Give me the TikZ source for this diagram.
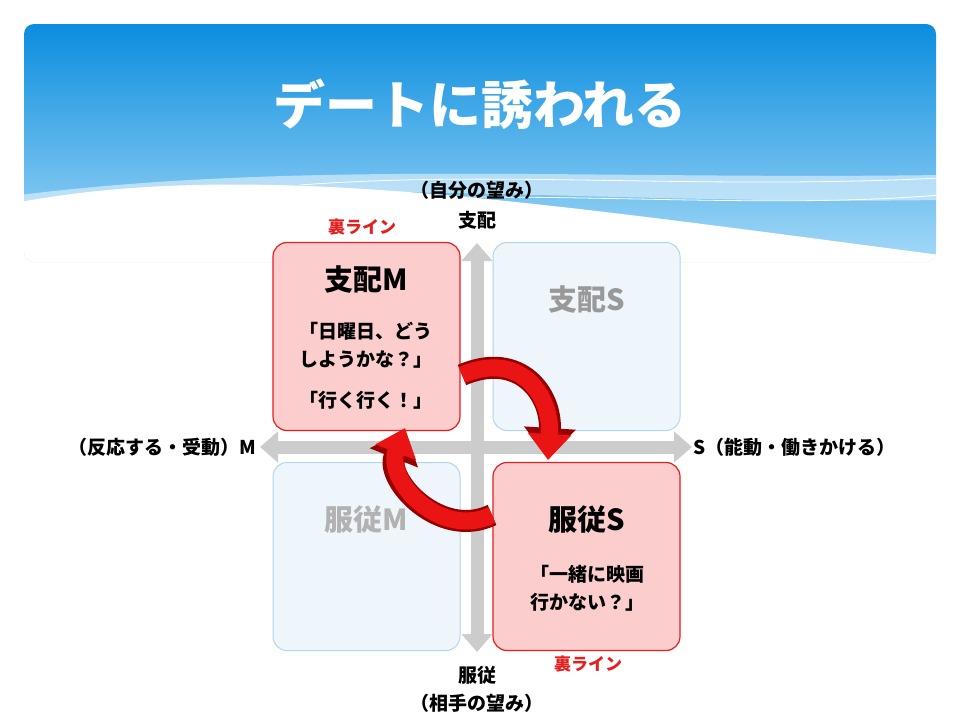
\documentclass[tikz,border=0pt]{standalone}
\usepackage{fontspec}
\setmainfont{Noto Sans CJK JP}
\usetikzlibrary{positioning, arrows.meta}
\definecolor{skyblue}{RGB}{8,140,222}
\definecolor{palesky}{RGB}{170,220,248}
\definecolor{boxred}{RGB}{230,30,30}
\definecolor{boxpink}{RGB}{251,205,205}
\definecolor{boxblue}{RGB}{175,215,235}
\definecolor{boxpale}{RGB}{238,246,251}
\definecolor{curlred}{RGB}{235,20,20}
\definecolor{curldark}{RGB}{150,0,0}

\begin{document}
\begin{tikzpicture}[x=1pt, y=-1pt,
    hot/.style = {draw=boxred, fill=boxpink, line width=1.2pt, rounded corners=14pt, minimum width=187pt, minimum height=188pt},
    cold/.style = {draw=boxblue, fill=boxpale, line width=1pt, rounded corners=14pt, minimum width=187pt, minimum height=188pt},
    axisline/.style = {draw=black!20, line width=13pt, {Triangle[length=18pt,width=30pt]}-{Triangle[length=18pt,width=30pt]}},
    txt/.style = {font=\fontsize{19}{28}\selectfont\bfseries},
    big/.style = {font=\fontsize{29}{32}\selectfont\bfseries},
    redtag/.style = {text=boxred, font=\fontsize{17}{20}\selectfont\bfseries},
]
    \useasboundingbox[fill=white] (0,0) rectangle (960,720);

    % Header banner
    \begin{scope}
        \clip[rounded corners=10pt] (24,24) rectangle (936,262);
        \shade[top color=skyblue, bottom color=palesky] (20,20) rectangle (940,270);
        \fill[white] (20,202) .. controls (250,160) and (520,200) .. (940,255) -- (940,270) -- (20,270) -- cycle;
        \fill[white, opacity=0.5] (20,195) .. controls (300,160) and (600,180) .. (940,175) -- (940,200) .. controls (600,205) and (300,175) .. (20,205) -- cycle;
        \draw[white, line width=0.8pt] (300,185) .. controls (500,170) and (700,190) .. (940,178);
        \draw[white, line width=0.8pt] (350,200) .. controls (560,190) and (760,210) .. (940,195);
    \end{scope}
    \node[text=white, font=\fontsize{52}{56}\selectfont\bfseries] (title) at (480,104) {デートに誘われる};

    % Quadrant boxes
    \node[cold] (domS) at (586.5,336.5) {};
    \node[cold] (subM) at (366.5,556.5) {};
    \node[hot] (domM) at (366.5,336.5) {};
    \node[hot] (subS) at (586.5,556.5) {};

    % Axes
    \coordinate (top) at (477,243);
    \coordinate (bottom) at (477,652);
    \coordinate (left) at (260,447);
    \coordinate (right) at (692,447);
    \draw[axisline] (left) -- (right);
    \draw[axisline] (top) -- (bottom);

    % Axis labels
    \node[txt] (ownwish) at (477,190) {（自分の望み）};
    \node[txt] (dominate) at (477,220) {支配};
    \node[txt] (submit) at (477,675) {服従};
    \node[txt] (otherwish) at (477,703) {（相手の望み）};
    \node[txt, anchor=east] (passive) at (260,447) {（反応する・受動）M};
    \node[txt, anchor=west] (active) at (690,447) {S（能動・働きかける）};
    \node[redtag] (backM) at (362,227) {裏ライン};
    \node[redtag] (backS) at (588,664) {裏ライン};

    % Box texts
    \node[big] (domMtitle) at (366,280) {支配M};
    \node[txt, align=center] (domMsay) at (366,345) {「日曜日、どう\\しようかな？」};
    \node[txt] (domMans) at (366,400) {「行く行く！」};
    \node[big, text=black!40] (domStitle) at (587,300) {支配S};
    \node[big, text=black!30] (subMtitle) at (366,520) {服従M};
    \node[big] (subStitle) at (587,520) {服従S};
    \node[txt, align=center] (subSsay) at (587,588) {「一緒に映画\\行かない？」};

    % Curled arrows
    \coordinate (outM) at (462,375);
    \coordinate (inS) at (548,458);
    \coordinate (outS) at (492,515);
    \coordinate (inM) at (405,430);
    \draw[curldark, line width=22pt, -{Triangle[length=30pt,width=50pt]}] (outM) .. controls (520,350) and (552,395) .. (inS);
    \draw[curlred, line width=17pt, -{Triangle[length=26pt,width=42pt]}] (outM) .. controls (520,350) and (552,395) .. ([yshift=-2pt]inS);
    \draw[curldark, line width=22pt, -{Triangle[length=30pt,width=50pt]}] (outS) .. controls (440,540) and (385,480) .. (inM);
    \draw[curlred, line width=17pt, -{Triangle[length=26pt,width=42pt]}] (outS) .. controls (440,540) and (385,480) .. ([yshift=2pt]inM);
\end{tikzpicture}
\end{document}
